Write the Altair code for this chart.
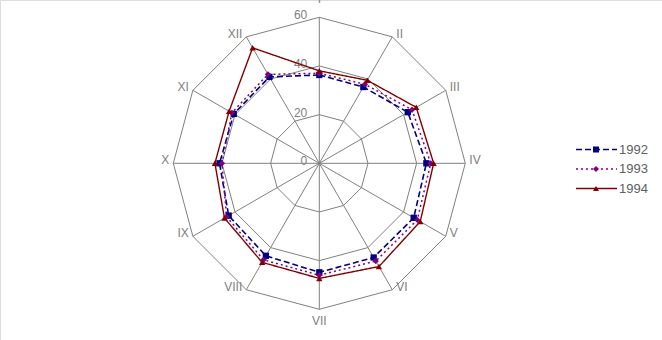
import altair as alt
import pandas as pd

# ---------------- data ----------------
categories = ["I", "II", "III", "IV", "V", "VI", "VII", "VIII", "IX", "X", "XI", "XII"]
years = ["1992", "1993", "1994"]
v1992 = [36.3, 36.2, 42.0, 44.0, 44.8, 44.7, 44.8, 43.9, 43.0, 41.0, 40.6, 41.0]
v1993 = [37.0, 37.5, 44.0, 45.8, 46.5, 46.4, 46.0, 45.8, 44.0, 40.0, 41.5, 42.2]
v1994 = [38.0, 39.4, 46.0, 47.0, 47.9, 49.0, 47.3, 47.0, 45.0, 42.9, 42.8, 54.8]
ring_values = [20, 40, 60]
tick_values = [0, 20, 40, 60]
tick_labels = ["0", "20", "40", "60"]

series = {"1992": v1992, "1993": v1993, "1994": v1994}
n = len(categories)

rows = []
for yr in years:
    vals = series[yr]
    for k in range(n + 1):
        rows.append({"year": yr, "cat": categories[k % n], "ord": k, "value": vals[k % n]})
df = pd.DataFrame(rows)

grid_rows = []
for r in ring_values:
    for k in range(n + 1):
        grid_rows.append({"ring": r, "ord": k, "value": r})
grid_df = pd.DataFrame(grid_rows)

spoke_df = pd.DataFrame({"ord": list(range(n)), "value": [max(ring_values)] * n})
cat_df = pd.DataFrame({"cat": categories, "ord": list(range(n)), "value": [max(ring_values)] * n})
tick_df = pd.DataFrame({"value": tick_values, "label": tick_labels})
legend_df = pd.DataFrame({"year": years})

# ---------------- geometry ----------------
W, H = 662, 340
CX, CY = 319.3, 163.3
U = 146.0 / 60.0  # pixels per unit
xs = alt.Scale(domain=[-CX / U, (W - CX) / U], nice=False, zero=False)
ys = alt.Scale(domain=[-(H - CY) / U, CY / U], nice=False, zero=False)

FONT = "Liberation Sans"
GRID = "#808080"
TXT = "#808080"
colors = ["#000080", "#800080", "#800000"]
dashes = [[6, 3], [2, 3], [1, 0]]
shapes = ["square", "diamond", "triangle-up"]
widths = [1.6, 1.4, 1.0]

color_enc = alt.Color("year:N", scale=alt.Scale(domain=years, range=colors), legend=None)
dash_enc = alt.StrokeDash("year:N", scale=alt.Scale(domain=years, range=dashes), legend=None)
shape_enc = alt.Shape("year:N", scale=alt.Scale(domain=years, range=shapes), legend=None)
sw_enc = alt.StrokeWidth("year:N", scale=alt.Scale(domain=years, range=widths), legend=None)

def polar(ch):
    return ch.transform_calculate(
        x="datum.value * sin(datum.ord * PI / 6)",
        y="datum.value * cos(datum.ord * PI / 6)",
    )

X = alt.X("x:Q", scale=xs, axis=None)
Y = alt.Y("y:Q", scale=ys, axis=None)

rings = polar(alt.Chart(grid_df)).mark_line(color=GRID, strokeWidth=1).encode(
    x=X, y=Y, detail="ring:N", order="ord:Q"
)

spokes = polar(alt.Chart(spoke_df)).transform_calculate(zero="0").mark_rule(
    color=GRID, strokeWidth=1
).encode(x=X, y=Y, x2="zero:Q", y2="zero:Q")

ticks = alt.Chart(tick_df).transform_calculate(x="0", y="datum.value").mark_text(
    align="right", baseline="middle", dx=-12, dy=-2, font=FONT, fontSize=12, color=TXT
).encode(x=X, y=Y, text="label:N")

def cat_layer(filt, **kw):
    return polar(alt.Chart(cat_df)).transform_filter(filt).mark_text(
        font=FONT, fontSize=12, color=TXT, **kw
    ).encode(x=X, y=Y, text="cat:N")

cat_right = cat_layer("datum.ord >= 1 && datum.ord <= 5", align="left", baseline="middle", dx=4, dy=-3)
cat_left = cat_layer("datum.ord >= 7 && datum.ord <= 11", align="right", baseline="middle", dx=-4, dy=-3)
cat_top = cat_layer("datum.ord == 0", align="center", baseline="bottom", dy=-11)
cat_bottom = cat_layer("datum.ord == 6", align="center", baseline="top", dy=7)

lines = polar(alt.Chart(df)).mark_line().encode(
    x=X, y=Y, color=color_enc, strokeDash=dash_enc, strokeWidth=sw_enc,
    detail="year:N", order="ord:Q"
)
points = polar(alt.Chart(df)).transform_filter("datum.ord < 12").mark_point(
    filled=True, size=40, opacity=1
).encode(x=X, y=Y, color=color_enc, shape=shape_enc)

# legend drawn with its own ordinal row scale
LY = alt.Y("year:N", scale=alt.Scale(type="point", domain=years, range=[149.5, 188.5], padding=0), axis=None)
leg_line = alt.Chart(legend_df).mark_rule().encode(
    x=alt.value(576), x2=alt.value(617), y=LY, color=color_enc, strokeDash=dash_enc, strokeWidth=sw_enc
)
leg_pt = alt.Chart(legend_df).mark_point(filled=True, size=36, opacity=1).encode(
    x=alt.value(596), y=LY, color=color_enc, shape=shape_enc
)
leg_txt = alt.Chart(legend_df).mark_text(
    align="left", baseline="middle", font=FONT, fontSize=13, color="#606060"
).encode(x=alt.value(619), y=LY, text="year:N")

chart = alt.layer(
    rings, spokes, ticks, cat_right, cat_left, cat_top, cat_bottom,
    lines, points, leg_line, leg_pt, leg_txt
).resolve_scale(y="independent").properties(
    width=W, height=H, padding=0, autosize=alt.AutoSizeParams(type="none")
).configure_view(stroke=None).configure(background="white")

chart.save("out.html", embed_options={"renderer": "svg", "actions": False})
